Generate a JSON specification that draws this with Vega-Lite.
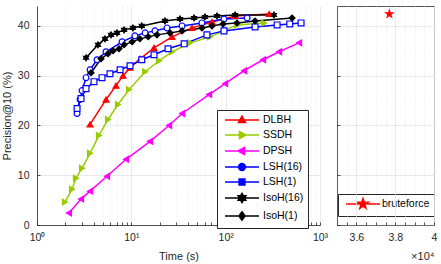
{
  "$schema": "https://vega.github.io/schema/vega-lite/v6.json",
  "padding": {"left": 1, "top": 5, "right": 5, "bottom": 2},
  "bounds": "flush",
  "spacing": 17,
  "config": {
    "font": "Liberation Sans",
    "view": {"stroke": null},
    "axis": {
      "domainColor": "#262626", "domainWidth": 0.8,
      "tickColor": "#262626", "tickWidth": 0.8,
      "labelColor": "#262626", "titleColor": "#262626",
      "labelFont": "Liberation Sans", "titleFont": "Liberation Sans",
      "labelFontSize": 10.5, "titleFontSize": 11, "titleFontWeight": "normal",
      "gridColor": "#e3e3e3", "gridWidth": 0.8,
      "labelOverlap": false, "labelFlush": false
    }
  },
  "datasets": {
    "curves": [
      {"method": "DLBH", "time": 3.65, "precision": 20.2},
      {"method": "DLBH", "time": 5.39, "precision": 25.2},
      {"method": "DLBH", "time": 6.88, "precision": 28.0},
      {"method": "DLBH", "time": 8.17, "precision": 30.0},
      {"method": "DLBH", "time": 9.69, "precision": 31.6},
      {"method": "DLBH", "time": 12.4, "precision": 33.4},
      {"method": "DLBH", "time": 17.4, "precision": 35.6},
      {"method": "DLBH", "time": 27.0, "precision": 37.8},
      {"method": "DLBH", "time": 44.0, "precision": 39.6},
      {"method": "DLBH", "time": 71.8, "precision": 40.8},
      {"method": "DLBH", "time": 126, "precision": 42.0},
      {"method": "DLBH", "time": 289, "precision": 42.4},
      {"method": "SSDH", "time": 1.98, "precision": 4.6},
      {"method": "SSDH", "time": 2.35, "precision": 7.2},
      {"method": "SSDH", "time": 2.59, "precision": 9.4},
      {"method": "SSDH", "time": 3.0, "precision": 11.4},
      {"method": "SSDH", "time": 3.65, "precision": 14.4},
      {"method": "SSDH", "time": 4.54, "precision": 18.0},
      {"method": "SSDH", "time": 5.66, "precision": 21.2},
      {"method": "SSDH", "time": 7.22, "precision": 24.2},
      {"method": "SSDH", "time": 9.46, "precision": 27.2},
      {"method": "SSDH", "time": 14.0, "precision": 30.8},
      {"method": "SSDH", "time": 19.7, "precision": 33.0},
      {"method": "SSDH", "time": 27.0, "precision": 34.8},
      {"method": "SSDH", "time": 41.9, "precision": 36.6},
      {"method": "SSDH", "time": 68.3, "precision": 37.8},
      {"method": "SSDH", "time": 132, "precision": 40.2},
      {"method": "SSDH", "time": 255, "precision": 40.6},
      {"method": "DPSH", "time": 2.18, "precision": 2.4},
      {"method": "DPSH", "time": 2.93, "precision": 5.2},
      {"method": "DPSH", "time": 3.65, "precision": 6.8},
      {"method": "DPSH", "time": 5.52, "precision": 9.8},
      {"method": "DPSH", "time": 8.79, "precision": 13.2},
      {"method": "DPSH", "time": 15.8, "precision": 16.8},
      {"method": "DPSH", "time": 25.1, "precision": 20.0},
      {"method": "DPSH", "time": 34.5, "precision": 22.4},
      {"method": "DPSH", "time": 66.7, "precision": 26.2},
      {"method": "DPSH", "time": 98.6, "precision": 28.4},
      {"method": "DPSH", "time": 157, "precision": 31.0},
      {"method": "DPSH", "time": 249, "precision": 33.2},
      {"method": "DPSH", "time": 368, "precision": 34.8},
      {"method": "DPSH", "time": 600, "precision": 36.6},
      {"method": "LSH(16)", "time": 2.66, "precision": 22.4},
      {"method": "LSH(16)", "time": 2.86, "precision": 25.2},
      {"method": "LSH(16)", "time": 3.0, "precision": 27.0},
      {"method": "LSH(16)", "time": 3.31, "precision": 29.6},
      {"method": "LSH(16)", "time": 3.65, "precision": 31.2},
      {"method": "LSH(16)", "time": 4.33, "precision": 33.2},
      {"method": "LSH(16)", "time": 5.39, "precision": 34.8},
      {"method": "LSH(16)", "time": 7.97, "precision": 36.8},
      {"method": "LSH(16)", "time": 10.9, "precision": 38.0},
      {"method": "LSH(16)", "time": 14.0, "precision": 38.6},
      {"method": "LSH(16)", "time": 17.8, "precision": 39.0},
      {"method": "LSH(16)", "time": 23.9, "precision": 39.6},
      {"method": "LSH(16)", "time": 34.5, "precision": 40.0},
      {"method": "LSH(16)", "time": 56, "precision": 40.6},
      {"method": "LSH(16)", "time": 96, "precision": 41.4},
      {"method": "LSH(16)", "time": 169, "precision": 41.6},
      {"method": "LSH(1)", "time": 2.66, "precision": 23.4},
      {"method": "LSH(1)", "time": 2.93, "precision": 25.4},
      {"method": "LSH(1)", "time": 3.31, "precision": 27.4},
      {"method": "LSH(1)", "time": 4.02, "precision": 28.8},
      {"method": "LSH(1)", "time": 4.89, "precision": 29.6},
      {"method": "LSH(1)", "time": 5.94, "precision": 30.4},
      {"method": "LSH(1)", "time": 7.6, "precision": 31.2},
      {"method": "LSH(1)", "time": 9.69, "precision": 32.0},
      {"method": "LSH(1)", "time": 12.9, "precision": 33.2},
      {"method": "LSH(1)", "time": 17.4, "precision": 34.2},
      {"method": "LSH(1)", "time": 24.5, "precision": 35.4},
      {"method": "LSH(1)", "time": 36.3, "precision": 36.4},
      {"method": "LSH(1)", "time": 63.3, "precision": 38.2},
      {"method": "LSH(1)", "time": 96, "precision": 39.0},
      {"method": "LSH(1)", "time": 205, "precision": 39.8},
      {"method": "LSH(1)", "time": 351, "precision": 40.2},
      {"method": "LSH(1)", "time": 478, "precision": 40.4},
      {"method": "LSH(1)", "time": 630, "precision": 40.6},
      {"method": "IsoH(16)", "time": 3.31, "precision": 33.6},
      {"method": "IsoH(16)", "time": 4.43, "precision": 36.2},
      {"method": "IsoH(16)", "time": 5.26, "precision": 37.4},
      {"method": "IsoH(16)", "time": 6.09, "precision": 38.2},
      {"method": "IsoH(16)", "time": 7.05, "precision": 38.6},
      {"method": "IsoH(16)", "time": 8.37, "precision": 39.2},
      {"method": "IsoH(16)", "time": 10.4, "precision": 39.6},
      {"method": "IsoH(16)", "time": 12.9, "precision": 40.0},
      {"method": "IsoH(16)", "time": 22.7, "precision": 41.0},
      {"method": "IsoH(16)", "time": 32.8, "precision": 41.4},
      {"method": "IsoH(16)", "time": 46.2, "precision": 41.6},
      {"method": "IsoH(16)", "time": 60.3, "precision": 41.8},
      {"method": "IsoH(16)", "time": 81, "precision": 42.0},
      {"method": "IsoH(16)", "time": 126, "precision": 42.2},
      {"method": "IsoH(16)", "time": 325, "precision": 42.2},
      {"method": "IsoH(1)", "time": 3.74, "precision": 30.6},
      {"method": "IsoH(1)", "time": 4.77, "precision": 33.4},
      {"method": "IsoH(1)", "time": 5.66, "precision": 34.4},
      {"method": "IsoH(1)", "time": 6.4, "precision": 35.0},
      {"method": "IsoH(1)", "time": 7.4, "precision": 35.4},
      {"method": "IsoH(1)", "time": 8.37, "precision": 36.2},
      {"method": "IsoH(1)", "time": 10.2, "precision": 36.8},
      {"method": "IsoH(1)", "time": 12.3, "precision": 37.4},
      {"method": "IsoH(1)", "time": 15.1, "precision": 37.8},
      {"method": "IsoH(1)", "time": 18.7, "precision": 38.2},
      {"method": "IsoH(1)", "time": 25.7, "precision": 38.6},
      {"method": "IsoH(1)", "time": 34.5, "precision": 39.0},
      {"method": "IsoH(1)", "time": 56, "precision": 39.6},
      {"method": "IsoH(1)", "time": 71.6, "precision": 40.0},
      {"method": "IsoH(1)", "time": 93.8, "precision": 40.4},
      {"method": "IsoH(1)", "time": 132, "precision": 40.6},
      {"method": "IsoH(1)", "time": 205, "precision": 41.0},
      {"method": "IsoH(1)", "time": 506, "precision": 41.6}
    ],
    "brute": [
      {"method": "bruteforce", "time": 37700, "precision": 42.4}
    ]
  },
  "hconcat": [
    {
      "width": 283,
      "height": 219,
      "layer": [
        {
          "data": {"name": "curves"},
          "mark": {"type": "line", "strokeWidth": 1.5, "clip": true},
          "encoding": {
            "x": {
              "field": "time", "type": "quantitative",
              "scale": {"type": "log", "domain": [1, 1000]},
              "axis": {
                "values": [1, 2, 3, 4, 5, 6, 7, 8, 9, 10, 20, 30, 40, 50, 60, 70, 80, 90, 100, 200, 300, 400, 500, 600, 700, 800, 900, 1000],
                "labelExpr": "datum.value == 1 ? '10⁰' : datum.value == 10 ? '10¹' : datum.value == 100 ? '10²' : datum.value == 1000 ? '10³' : ''",
                "grid": true,
                "gridDash": {"condition": {"test": "datum.value == 1 || datum.value == 10 || datum.value == 100 || datum.value == 1000", "value": []}, "value": [1, 2]},
                "tickSize": -3,
                "labelPadding": 10,
                "title": "Time (s)",
                "titlePadding": 8
              }
            },
            "y": {
              "field": "precision", "type": "quantitative",
              "scale": {"domain": [0, 44], "nice": false, "zero": false},
              "axis": {
                "values": [0, 10, 20, 30, 40],
                "grid": true,
                "tickSize": -3,
                "labelPadding": 11,
                "title": "Precision@10 (%)",
                "titlePadding": 5
              }
            },
            "stroke": {
              "field": "method", "type": "nominal",
              "scale": {"domain": ["DLBH", "SSDH", "DPSH", "LSH(16)", "LSH(1)", "IsoH(16)", "IsoH(1)"], "range": ["#ff0000", "#99cc00", "#ff00ff", "#0000ff", "#0000ff", "#000000", "#000000"]},
              "legend": null
            }
          }
        },
        {
          "data": {"name": "curves"},
          "mark": {"type": "point", "filled": true, "strokeWidth": 1.2, "size": 34, "opacity": 1, "clip": true},
          "encoding": {
            "x": {"field": "time", "type": "quantitative"},
            "y": {"field": "precision", "type": "quantitative"},
            "stroke": {
              "field": "method", "type": "nominal",
              "scale": {"domain": ["DLBH", "SSDH", "DPSH", "LSH(16)", "LSH(1)", "IsoH(16)", "IsoH(1)"], "range": ["#ff0000", "#99cc00", "#ff00ff", "#0000ff", "#0000ff", "#000000", "#000000"]},
              "legend": null
            },
            "fill": {
              "field": "method", "type": "nominal",
              "scale": {"domain": ["DLBH", "SSDH", "DPSH", "LSH(16)", "LSH(1)", "IsoH(16)", "IsoH(1)"], "range": ["#ff0000", "#99cc00", "#ff00ff", "#ffffff", "#ffffff", "#000000", "#000000"]},
              "legend": null
            },
            "shape": {
              "field": "method", "type": "nominal",
              "scale": {"domain": ["DLBH", "SSDH", "DPSH", "LSH(16)", "LSH(1)", "IsoH(16)", "IsoH(1)"], "range": ["triangle-up", "triangle-right", "triangle-left", "circle", "square", "M0,-1L0.289,-0.5L0.866,-0.5L0.577,0L0.866,0.5L0.289,0.5L0,1L-0.289,0.5L-0.866,0.5L-0.577,0L-0.866,-0.5L-0.289,-0.5Z", "diamond"]},
              "legend": null
            }
          }
        },
        {
          "data": {"name": "curves"},
          "transform": [{"filter": "false"}],
          "mark": {"type": "point", "filled": true, "strokeWidth": 1.5, "opacity": 1},
          "encoding": {
            "x": {"field": "time", "type": "quantitative"},
            "y": {"field": "precision", "type": "quantitative"},
            "stroke": {
              "field": "method", "type": "nominal",
              "scale": {"domain": ["DLBH", "SSDH", "DPSH", "LSH(16)", "LSH(1)", "IsoH(16)", "IsoH(1)"], "range": ["#ff0000", "#99cc00", "#ff00ff", "#0000ff", "#0000ff", "#000000", "#000000"]},
              "legend": {"orient": "none", "legendX": 180, "legendY": 104, "title": null, "strokeColor": "#262626", "fillColor": "#ffffff", "padding": 4, "symbolSize": 100, "symbolStrokeWidth": 1.5, "labelFontSize": 10.5, "labelFont": "Liberation Sans", "labelColor": "#000000", "labelOffset": 15, "rowPadding": 2, "symbolOffset": 15}
            },
            "fill": {
              "field": "method", "type": "nominal",
              "scale": {"domain": ["DLBH", "SSDH", "DPSH", "LSH(16)", "LSH(1)", "IsoH(16)", "IsoH(1)"], "range": ["#ff0000", "#99cc00", "#ff00ff", "#0000ff", "#0000ff", "#000000", "#000000"]},
              "legend": {"orient": "none", "legendX": 180, "legendY": 104, "title": null, "strokeColor": "#262626", "fillColor": "#ffffff", "padding": 4, "symbolSize": 100, "symbolStrokeWidth": 1.5, "labelFontSize": 10.5, "labelFont": "Liberation Sans", "labelColor": "#000000", "labelOffset": 15, "rowPadding": 2, "symbolOffset": 15}
            },
            "shape": {
              "field": "method", "type": "nominal",
              "scale": {"domain": ["DLBH", "SSDH", "DPSH", "LSH(16)", "LSH(1)", "IsoH(16)", "IsoH(1)"], "range": [
                "M-3.4,0H3.4M0,-0.8L0.72,0.5L-0.72,0.5Z",
                "M-3.4,0H3.4M0.8,0L-0.5,0.72L-0.5,-0.72Z",
                "M-3.4,0H3.4M-0.8,0L0.5,-0.72L0.5,0.72Z",
                "M-3.4,0H3.4M0.68,0A0.68,0.68,0,1,1,-0.68,0A0.68,0.68,0,1,1,0.68,0Z",
                "M-3.4,0H3.4M-0.58,-0.58H0.58V0.58H-0.58Z",
                "M-3.4,0H3.4M0,-0.9L0.26,-0.45L0.779,-0.45L0.52,0L0.779,0.45L0.26,0.45L0,0.9L-0.26,0.45L-0.779,0.45L-0.52,0L-0.779,-0.45L-0.26,-0.45Z",
                "M-3.4,0H3.4M0,-0.84L0.6,0L0,0.84L-0.6,0Z"
              ]},
              "legend": {"orient": "none", "legendX": 180, "legendY": 104, "title": null, "strokeColor": "#262626", "fillColor": "#ffffff", "padding": 4, "symbolSize": 100, "symbolStrokeWidth": 1.5, "labelFontSize": 10.5, "labelFont": "Liberation Sans", "labelColor": "#000000", "labelOffset": 15, "rowPadding": 2, "symbolOffset": 15}
            }
          }
        },
        {
          "data": {"name": "brute"},
          "transform": [{"filter": "false"}],
          "mark": {"type": "point", "filled": true, "strokeWidth": 1.5, "opacity": 1},
          "encoding": {
            "x": {"field": "time", "type": "quantitative"},
            "y": {"field": "precision", "type": "quantitative"},
            "stroke": {
              "field": "method", "type": "nominal",
              "scale": {"domain": ["bruteforce"], "range": ["#ff0000"]},
              "legend": {"orient": "none", "legendX": 301, "legendY": 188, "title": null, "strokeColor": "#262626", "fillColor": "#ffffff", "padding": 4, "symbolSize": 100, "symbolStrokeWidth": 1.5, "labelFontSize": 10.5, "labelFont": "Liberation Sans", "labelColor": "#000000", "labelOffset": 13, "symbolOffset": 15}
            },
            "fill": {
              "field": "method", "type": "nominal",
              "scale": {"domain": ["bruteforce"], "range": ["#ff0000"]},
              "legend": {"orient": "none", "legendX": 301, "legendY": 188, "title": null, "strokeColor": "#262626", "fillColor": "#ffffff", "padding": 4, "symbolSize": 100, "symbolStrokeWidth": 1.5, "labelFontSize": 10.5, "labelFont": "Liberation Sans", "labelColor": "#000000", "labelOffset": 13, "symbolOffset": 15}
            },
            "shape": {
              "field": "method", "type": "nominal",
              "scale": {"domain": ["bruteforce"], "range": ["M-3.4,0H3.4M0,-1.08L0.243,-0.334L1.027,-0.334L0.392,0.127L0.635,0.874L0,0.413L-0.635,0.874L-0.392,0.127L-1.027,-0.334L-0.243,-0.334Z"]},
              "legend": {"orient": "none", "legendX": 301, "legendY": 188, "title": null, "strokeColor": "#262626", "fillColor": "#ffffff", "padding": 4, "symbolSize": 100, "symbolStrokeWidth": 1.5, "labelFontSize": 10.5, "labelFont": "Liberation Sans", "labelColor": "#000000", "labelOffset": 13, "symbolOffset": 15}
            }
          }
        }
      ],
      "resolve": {"scale": {"shape": "independent", "fill": "independent", "stroke": "independent"}, "legend": {"shape": "independent", "fill": "independent", "stroke": "independent"}}
    },
    {
      "width": 97,
      "height": 219,
      "view": {"stroke": "#555555", "strokeWidth": 1},
      "data": {"name": "brute"},
      "mark": {"type": "point", "filled": true, "shape": "M0,-1L0.225,-0.309L0.951,-0.309L0.363,0.118L0.588,0.809L0,0.382L-0.588,0.809L-0.363,0.118L-0.951,-0.309L-0.225,-0.309Z", "size": 130, "color": "#ff0000", "opacity": 1},
      "encoding": {
        "x": {
          "field": "time", "type": "quantitative",
          "scale": {"domain": [35000, 40000], "nice": false, "zero": false},
          "axis": {
            "values": [35000, 35500, 36000, 36500, 37000, 37500, 38000, 38500, 39000, 39500, 40000],
            "labelExpr": "datum.value % 2000 == 0 ? format(datum.value / 10000, '.1~f') : ''",
            "grid": true,
            "gridDash": {"condition": {"test": "datum.value % 2000 == 0", "value": []}, "value": [1, 2]},
            "domainColor": "#555555",
            "tickSize": -3,
            "labelPadding": 10,
            "title": "×10⁴",
            "titleX": 97,
            "titleAlign": "right",
            "titlePadding": 8
          }
        },
        "y": {
          "field": "precision", "type": "quantitative",
          "scale": {"domain": [0, 44], "nice": false, "zero": false},
          "axis": {"values": [0, 10, 20, 30, 40], "grid": true, "labels": false, "domainColor": "#555555", "tickSize": -3, "title": null}
        }
      }
    }
  ],
  "resolve": {
    "scale": {"x": "independent", "y": "independent", "stroke": "independent", "fill": "independent", "shape": "independent", "color": "independent"},
    "legend": {"stroke": "independent", "fill": "independent", "shape": "independent"}
  }
}
